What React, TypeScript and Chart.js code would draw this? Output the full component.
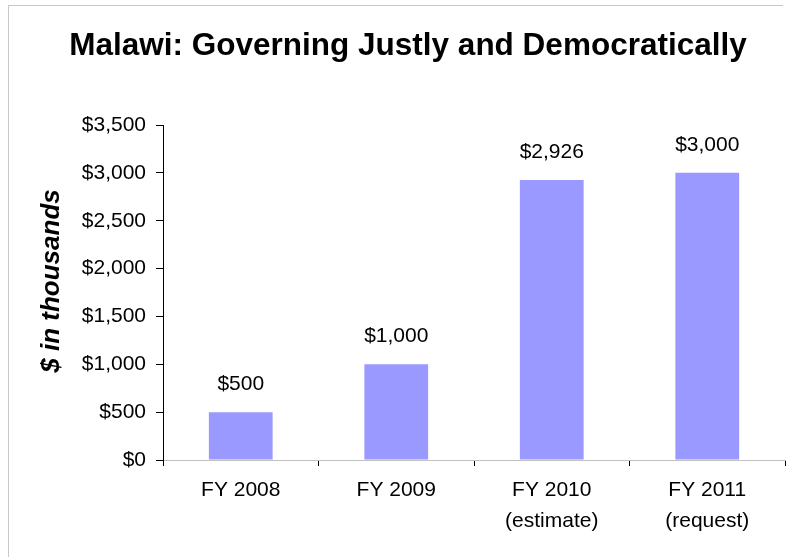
import React, { useEffect, useRef } from "react";
import { Chart, registerables } from "chart.js";

Chart.register(...registerables);

const categories: string[][] = [["FY 2008"], ["FY 2009"], ["FY 2010", "(estimate)"], ["FY 2011", "(request)"]];
const values: number[] = [500, 1000, 2926, 3000];
const titleText = "Malawi: Governing Justly and Democratically";
const yAxisTitle = "$ in thousands";
const yMin = 0;
const yMax = 3500;
const yStep = 500;

const FONT = "'Liberation Sans', Arial, sans-serif";

const fmt = (v: number) => "$" + v.toLocaleString("en-US");

const framePlugin = {
  id: "frame",
  beforeDraw(chart: any) {
    const ctx = chart.ctx;
    ctx.save();
    ctx.strokeStyle = "#c8c8c8";
    ctx.lineWidth = 1;
    ctx.beginPath();
    ctx.moveTo(8, 5.5);
    ctx.lineTo(783, 5.5);
    ctx.moveTo(8.5, 5);
    ctx.lineTo(8.5, 557);
    ctx.stroke();
    ctx.restore();
  },
};

const labelsPlugin = {
  id: "barLabels",
  afterDatasetsDraw(chart: any) {
    const ctx = chart.ctx;
    ctx.save();
    ctx.fillStyle = "#000";
    ctx.textAlign = "center";
    ctx.textBaseline = "middle";
    // title
    ctx.font = `bold 31.5px ${FONT}`;
    ctx.fillText(titleText, 408, 46);
    // value labels
    ctx.font = `21px ${FONT}`;
    const meta = chart.getDatasetMeta(0);
    meta.data.forEach((bar: any, i: number) => {
      ctx.fillText(fmt(values[i]), bar.x, bar.y - 28);
    });
    // y axis title
    ctx.font = `bold italic 26px ${FONT}`;
    ctx.translate(52, 281);
    ctx.rotate(-Math.PI / 2);
    ctx.fillText(yAxisTitle, 0, 0);
    ctx.restore();
  },
};

export default function App() {
  const ref = useRef<HTMLCanvasElement>(null);
  useEffect(() => {
    if (!ref.current) return;
    const chart = new Chart(ref.current, {
      type: "bar",
      data: {
        labels: categories,
        datasets: [
          {
            data: values,
            backgroundColor: "#9999ff",
            borderWidth: 0,
            barPercentage: 0.41,
            categoryPercentage: 1,
          },
        ],
      },
      options: {
        animation: false,
        responsive: false,
        maintainAspectRatio: false,
        layout: { padding: { left: 0, right: 4, top: 125, bottom: 0 } },
        plugins: {
          legend: { display: false },
          tooltip: { enabled: false },
          title: { display: false },
        },
        scales: {
          x: {
            grid: {
              display: true,
              drawOnChartArea: false,
              drawTicks: true,
              tickLength: 6,
              color: "#000",
              offset: true,
            },
            border: { display: true, color: "#c0c0c0", width: 1 },
            ticks: {
              color: "#000",
              font: { family: FONT, size: 21, lineHeight: 1.5 },
              padding: 8,
              maxRotation: 0,
              autoSkip: false,
            },
            afterFit(scale: any) {
              scale.height = 97;
            },
          },
          y: {
            min: yMin,
            max: yMax,
            grid: {
              display: true,
              drawOnChartArea: false,
              drawTicks: true,
              tickLength: 7,
              color: "#000",
            },
            border: { display: true, color: "#000", width: 1 },
            ticks: {
              stepSize: yStep,
              color: "#000",
              font: { family: FONT, size: 21 },
              padding: 10,
              callback: (v: any) => fmt(Number(v)),
            },
            afterFit(scale: any) {
              scale.width = 163;
            },
          },
        },
      },
      plugins: [framePlugin, labelsPlugin],
    });
    return () => chart.destroy();
  }, []);
  return (
    <div style={{ position: "fixed", left: 0, top: 0, width: 789, height: 557, background: "#fff" }}>
      <canvas ref={ref} width={789} height={557} style={{ width: 789, height: 557, display: "block" }} />
    </div>
  );
}
